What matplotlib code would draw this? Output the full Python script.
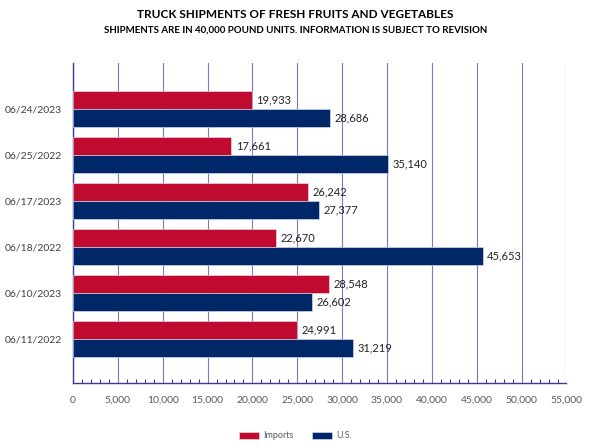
import numpy as np
import matplotlib.pyplot as plt
from matplotlib.ticker import MultipleLocator, FuncFormatter

weeks = ['06/24/2023', '06/25/2022', '06/17/2023', '06/18/2022', '06/10/2023', '06/11/2022']
imports = [19933, 17661, 26242, 22670, 28548, 24991]
us = [28686, 35140, 27377, 45653, 26602, 31219]

red = '#C00A30'
navy = '#002868'
grid_col = '#7B7BC4'
axis_col = '#3A3A9A'

plt.rcParams['font.family'] = ['Lato', 'DejaVu Sans']

fig = plt.figure(figsize=(5.91, 4.48), dpi=100)
ax = fig.add_axes([0.1235, 0.145, 0.835, 0.714])

y = np.arange(len(weeks))
h = 0.39
b1 = ax.barh(y - h / 2, imports, height=h, color=red, edgecolor='#e8e8f0', linewidth=0.4, label='Imports', zorder=3)
b2 = ax.barh(y + h / 2, us, height=h, color=navy, edgecolor='#e8e8f0', linewidth=0.4, label='U.S.', zorder=3)

for bars in (b1, b2):
    for r in bars:
        w = r.get_width()
        ax.text(w + 500, r.get_y() + r.get_height() / 2, f'{w:,.0f}', va='center', ha='left',
                fontsize=8, color='#222222', zorder=4)

ax.set_xlim(0, 55000)
ax.set_ylim(5.96, -1.0)
ax.set_yticks(y)
ax.set_yticklabels(weeks)
ax.xaxis.set_major_locator(MultipleLocator(5000))
ax.xaxis.set_minor_locator(MultipleLocator(1000))
ax.xaxis.set_major_formatter(FuncFormatter(lambda v, p: f'{v:,.0f}'))
ax.grid(axis='x', color=grid_col, linewidth=0.8, zorder=0)
ax.tick_params(axis='x', which='major', direction='in', length=0, labelsize=7.5, labelcolor='#595959', pad=9)
ax.tick_params(axis='x', which='minor', direction='in', length=3, color=axis_col, width=0.8)
ax.tick_params(axis='y', length=0, labelsize=7.5, labelcolor='#404040', pad=8)

for s in ('top', 'right'):
    ax.spines[s].set_visible(False)
for s in ('left', 'bottom'):
    ax.spines[s].set_color(axis_col)
    ax.spines[s].set_linewidth(1.0)

fig.text(0.5, 0.968, 'TRUCK SHIPMENTS OF FRESH FRUITS AND VEGETABLES', ha='center', va='center',
         fontsize=8.5, fontweight='bold', color='#000000')
fig.text(0.5, 0.933, 'SHIPMENTS ARE IN 40,000 POUND UNITS. INFORMATION IS SUBJECT TO REVISION', ha='center',
         va='center', fontsize=7, fontweight='bold', color='#000000')

fig.legend(handles=[b1, b2], loc='center', bbox_to_anchor=(0.5, 0.027), ncol=2, frameon=False,
           fontsize=6.5, handlelength=2.2, handleheight=0.9, columnspacing=2.0, handletextpad=0.5,
           labelcolor='#595959')

fig.savefig('out.png', dpi=100)
